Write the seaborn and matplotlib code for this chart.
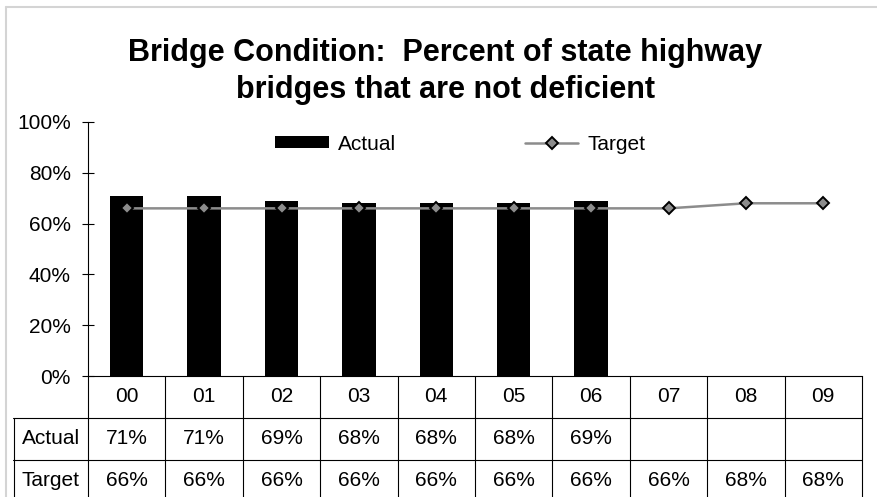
import numpy as np
import pandas as pd
import matplotlib
matplotlib.use("Agg")
import matplotlib.pyplot as plt
from matplotlib.lines import Line2D
from matplotlib.patches import Patch
from matplotlib.transforms import blended_transform_factory
import seaborn as sns

# ---- data ----
years = ["00", "01", "02", "03", "04", "05", "06", "07", "08", "09"]
actual = [0.71, 0.71, 0.69, 0.68, 0.68, 0.68, 0.69, np.nan, np.nan, np.nan]
target = [0.66, 0.66, 0.66, 0.66, 0.66, 0.66, 0.66, 0.66, 0.68, 0.68]
yticks = [0.0, 0.2, 0.4, 0.6, 0.8, 1.0]
title = "Bridge Condition:  Percent of state highway\nbridges that are not deficient"

df = pd.DataFrame({"year": years, "Actual": actual, "Target": target})

sns.set_theme(style="white")
plt.rcParams["font.family"] = ["Liberation Sans", "DejaVu Sans"]
plt.rcParams.update({"text.color": "black", "axes.labelcolor": "black",
                     "xtick.color": "black", "ytick.color": "black"})

W, H = 877, 497
fig = plt.figure(figsize=(W / 100, H / 100), dpi=100)

# axes in pixel geometry
ax_l, ax_r, ax_t, ax_b = 88, 862, 122, 376
ax = fig.add_axes([ax_l / W, (H - ax_b) / H, (ax_r - ax_l) / W, (ax_b - ax_t) / H])

line_c = "#8c8c8c"
sns.barplot(data=df, x="year", y="Actual", order=years, color="black",
            width=0.43, saturation=1, ax=ax, errorbar=None, edgecolor="none")
sns.pointplot(data=df, x="year", y="Target", order=years, color=line_c,
              markers="D", errorbar=None, ax=ax, linewidth=1.8,
              markersize=6.5, markeredgecolor="black", markeredgewidth=1.4,
              markerfacecolor=line_c)

ax.set_xlim(-0.5, len(years) - 0.5)
ax.set_ylim(0, 1)
ax.set_yticks(yticks)
ax.set_yticklabels([f"{v:.0%}" for v in yticks])
ax.set_xlabel("")
ax.set_ylabel("")
ax.tick_params(axis="y", direction="inout", length=8.6, width=0.8, color="black",
               labelcolor="black", labelsize=15, pad=8, left=True)
ax.tick_params(axis="x", length=0, labelbottom=False)
for s in ["top", "right"]:
    ax.spines[s].set_visible(False)
for s in ["left", "bottom"]:
    ax.spines[s].set_color("black")
    ax.spines[s].set_linewidth(0.8)

# ---- data table below axes ----
def ay(ypix):
    return (ax_b - ypix) / (ax_b - ax_t)

bt = blended_transform_factory(ax.transData, ax.transAxes)
ft = fig.transFigure
lc = "black"
lw = 0.8
bottom_y = ay(505)
for k in range(len(years) + 1):
    ax.add_line(Line2D([k - 0.5, k - 0.5], [0, bottom_y], transform=bt,
                       color=lc, lw=lw, clip_on=False))
for ypix in [418, 460]:
    fig.add_artist(Line2D([13 / W, ax_r / W], [(H - ypix) / H] * 2, transform=ft,
                          color=lc, lw=lw))
fig.add_artist(Line2D([13.5 / W] * 2, [(H - 418) / H, 0], transform=ft, color=lc, lw=lw))

fs = 15
for i, yr in enumerate(years):
    ax.text(i, ay(397), yr, transform=bt, ha="center", va="center", fontsize=fs,
            color="black", clip_on=False)
    if not np.isnan(actual[i]):
        ax.text(i, ay(439), f"{actual[i]:.0%}", transform=bt, ha="center", va="center",
                fontsize=fs, color="black", clip_on=False)
    ax.text(i, ay(481), f"{target[i]:.0%}", transform=bt, ha="center", va="center",
            fontsize=fs, color="black", clip_on=False)
fig.text(51 / W, (H - 439) / H, "Actual", ha="center", va="center", fontsize=fs, color="black")
fig.text(51 / W, (H - 481) / H, "Target", ha="center", va="center", fontsize=fs, color="black")

# ---- legend ----
handles = [Patch(facecolor="black", edgecolor="none"),
           Line2D([], [], color=line_c, lw=1.8, marker="D", markersize=6.5,
                  markerfacecolor=line_c, markeredgecolor="black", markeredgewidth=1.4)]
leg = fig.legend(handles, ["Actual", "Target"], loc="center left",
                 bbox_to_anchor=(265 / W, (H - 144) / H), bbox_transform=ft,
                 ncol=2, frameon=False, fontsize=fs, borderpad=0, handlelength=2.55,
                 handleheight=0.5, handletextpad=0.45, columnspacing=6.2)
for t in leg.get_texts():
    t.set_color("black")

# ---- title (baseline of the last line) ----
fig.text(0.5 * (13 + 877) / W, (H - 98) / H, title, ha="center", va="baseline",
         fontsize=22, fontweight="bold", linespacing=1.3, color="black")

# ---- figure border ----
bc = "#d4d4d4"
fig.add_artist(Line2D([5.5 / W, 5.5 / W], [0, (H - 7) / H], transform=ft, color=bc, lw=1.5))
fig.add_artist(Line2D([5.5 / W, 1], [(H - 7) / H] * 2, transform=ft, color=bc, lw=1.5))

fig.savefig("out.png", dpi=100)
